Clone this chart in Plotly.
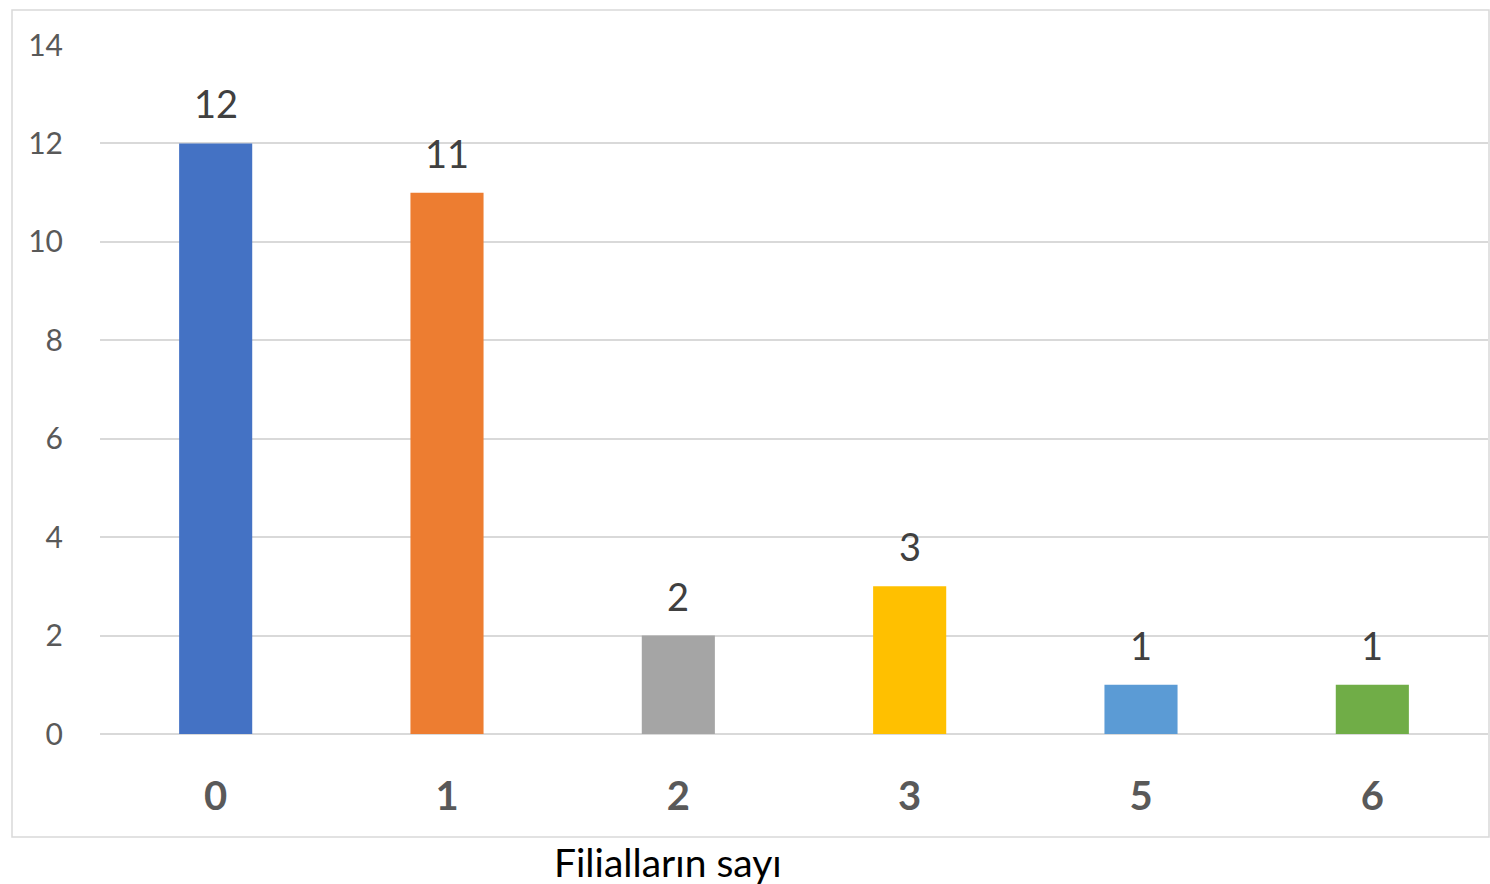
import plotly.graph_objects as go

categories = ["0", "1", "2", "3", "5", "6"]
values = [12, 11, 2, 3, 1, 1]
colors = ["#4472C4", "#ED7D31", "#A5A5A5", "#FFC000", "#5B9BD5", "#70AD47"]
y_ticks = [0, 2, 4, 6, 8, 10, 12, 14]
x_title = "Filialların sayı"

W, H = 1490, 884
L, R, T, B = 100, 2, 45, 150
pw, ph = W - L - R, H - T - B
FONT = "Lato, Open Sans, sans-serif"

def px(x):
    return (x - L) / pw

def py(y):
    return (H - B - y) / ph

fig = go.Figure(go.Bar(
    x=categories, y=values,
    marker=dict(color=colors, line=dict(width=0)),
    cliponaxis=False,
))

# category axis positions are indices; numeric-looking strings would be misread
annotations = [dict(x=i, y=v, xref="x", yref="y", text=str(v), showarrow=False,
                    yanchor="bottom", yshift=15,
                    font=dict(family=FONT, size=38, color="#404040"))
               for i, v in enumerate(values)]
annotations.append(dict(text=x_title, xref="paper", yref="paper", x=px(668), y=py(862),
                        showarrow=False, xanchor="center", yanchor="middle",
                        font=dict(size=39, color="black", family=FONT)))

fig.update_layout(
    width=W, height=H,
    margin=dict(l=L, r=R, t=T, b=B),
    paper_bgcolor="white", plot_bgcolor="white",
    bargap=0.684,
    showlegend=False,
    font=dict(family=FONT),
    xaxis=dict(
        type="category", showgrid=False, showline=False, ticks="",
        range=[-0.5, len(categories) - 0.5],
        tickfont=dict(size=40, color="#595959", family=FONT, weight="bold"),
        ticklabelstandoff=35,
    ),
    yaxis=dict(
        range=[0, 14], tickvals=y_ticks, showgrid=True, gridcolor="#d9d9d9", gridwidth=1.5,
        zeroline=True, zerolinecolor="#d9d9d9", zerolinewidth=1.5,
        showline=False, ticks="",
        tickfont=dict(size=30, color="#595959", family=FONT),
        ticklabelstandoff=36,
    ),
    shapes=[dict(type="rect", xref="paper", yref="paper",
                 x0=px(12), x1=px(1489), y0=py(837), y1=py(10),
                 line=dict(color="#d9d9d9", width=1.5), fillcolor="rgba(0,0,0,0)", layer="below")],
    annotations=annotations,
)

fig.write_html("out.html", config={"displayModeBar": False},
               post_script="document.body.style.margin='0';document.body.style.overflow='hidden';")
